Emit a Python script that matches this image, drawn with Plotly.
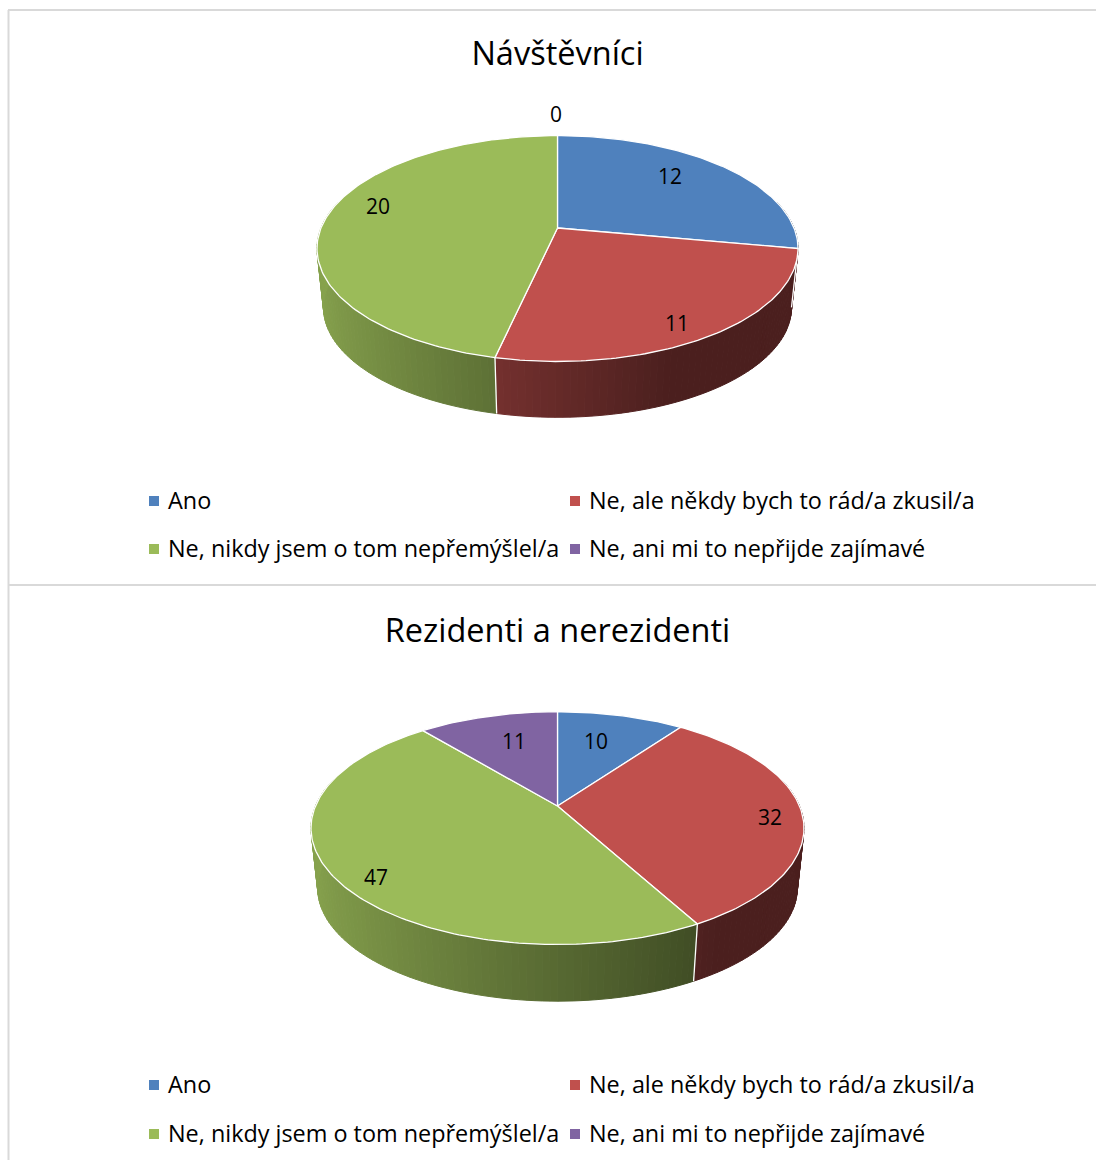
import numpy as np
import plotly.graph_objects as go

categories = ["Ano", "Ne, ale někdy bych to rád/a zkusil/a",
              "Ne, nikdy jsem o tom nepřemýšlel/a", "Ne, ani mi to nepřijde zajímavé"]
colors = ["#4F81BD", "#C0504D", "#9BBB59", "#8064A2"]

title_1 = "Návštěvníci"
values_1 = [12, 11, 20, 0]
title_2 = "Rezidenti a nerezidenti"
values_2 = [10, 32, 47, 11]

FONT = "Open Sans, Noto Sans, sans-serif"
TEXT = "#000000"
W, H = 1096, 1160
BORDER = "#D9D9D9"

# Scene placement of each pie (apex, half-width, perspective, depth)
scene_1 = dict(cx=557.5, cy=228, A=109.2, B=236.5, k=0.182, s=0.973, dy=59.4, x_dark=0.4,
               title_y=57, legend_y=(503, 551),
               label_xy=[(670, 179), (677, 326), (378, 209), (556, 117)])
scene_2 = dict(cx=557.5, cy=806, A=112.2, B=242.0, k=0.19, s=0.973, dy=60.4, x_dark=0.56,
               title_y=634, legend_y=(1087, 1136),
               label_xy=[(596, 744), (770, 820), (376, 880), (514, 744)])
LEGEND_X = [(154, 168), (575, 589)]


def project(sc, t, bottom=False):
    X, Y = np.sin(t), -np.cos(t)
    d = 1 - sc["k"] * Y
    s = sc["s"] if bottom else 1.0
    off = sc["dy"] if bottom else 0.0
    return sc["cx"] + s * sc["B"] * X / d, sc["cy"] + off + s * sc["A"] * Y / d


def shade(hex_color, f):
    r, g, b = (int(hex_color[i:i + 2], 16) for i in (1, 3, 5))
    return f"rgb({r * f:.0f},{g * f:.0f},{b * f:.0f})"


def side_factor(t, x_dark):
    return float(np.clip(0.87 - 0.48 * (np.sin(t) + 1) / (1 + x_dark), 0.39, 0.87))


fig = go.Figure()


def add_poly(x, y, fill, line=None, width=1):
    fig.add_trace(go.Scatter(x=list(x), y=list(y), mode="lines", fill="toself", fillcolor=fill,
                             line=dict(color=line or fill, width=width), hoverinfo="skip",
                             showlegend=False))


def add_pie(values, title, sc):
    total = sum(values)
    edges = np.cumsum([0] + list(values)) / total * 2 * np.pi

    # extruded wall: short shaded strips over the front half
    for i, col in enumerate(colors):
        a, b = edges[i], edges[i + 1]
        lo, hi = max(a, np.pi / 2 - 0.25), min(b, 3 * np.pi / 2 + 0.25)
        if hi <= lo:
            continue
        n = max(2, int((hi - lo) / np.radians(1.5)))
        ts = np.linspace(lo, hi, n + 1)
        for t0, t1 in zip(ts[:-1], ts[1:]):
            x0, y0 = project(sc, t0)
            x1, y1 = project(sc, t1)
            x2, y2 = project(sc, t1, True)
            x3, y3 = project(sc, t0, True)
            add_poly([x0, x1, x2, x3, x0], [y0, y1, y2, y3, y0],
                     shade(col, side_factor((t0 + t1) / 2, sc["x_dark"])))

    # white seams on the wall
    for e in edges[:-1]:
        if np.pi / 2 < e % (2 * np.pi) < 3 * np.pi / 2:
            x0, y0 = project(sc, e)
            x1, y1 = project(sc, e, True)
            fig.add_trace(go.Scatter(x=[x0, x1], y=[y0, y1], mode="lines",
                                     line=dict(color="white", width=1.3),
                                     hoverinfo="skip", showlegend=False))

    # top faces
    for i, col in enumerate(colors):
        a, b = edges[i], edges[i + 1]
        if b <= a:
            continue
        ts = np.linspace(a, b, max(3, int((b - a) / np.radians(1))))
        px, py = project(sc, ts)
        xs = [sc["cx"]] + list(px) + [sc["cx"]]
        ys = [sc["cy"]] + list(py) + [sc["cy"]]
        add_poly(xs, ys, col, "white", 1.3)

    # data labels
    fig.add_trace(go.Scatter(x=[p[0] for p in sc["label_xy"]], y=[p[1] for p in sc["label_xy"]],
                             mode="text", text=[str(v) for v in values], textposition="middle center",
                             textfont=dict(family=FONT, size=21, color=TEXT),
                             hoverinfo="skip", showlegend=False))
    # title
    fig.add_trace(go.Scatter(x=[sc["cx"]], y=[sc["title_y"]], mode="text", text=[title],
                             textposition="middle center",
                             textfont=dict(family=FONT, size=32.5, color=TEXT),
                             hoverinfo="skip", showlegend=False))
    # legend
    for i, cat in enumerate(categories):
        row, col_i = i // 2, i % 2
        mx, tx = LEGEND_X[col_i]
        ly = sc["legend_y"][row]
        fig.add_trace(go.Scatter(x=[mx], y=[ly - 2], mode="markers",
                                 marker=dict(symbol="square", size=10, color=colors[i], line=dict(width=0)),
                                 hoverinfo="skip", showlegend=False))
        fig.add_trace(go.Scatter(x=[tx], y=[ly], mode="text", text=[cat], textposition="middle right",
                                 textfont=dict(family=FONT, size=23.4, color=TEXT),
                                 hoverinfo="skip", showlegend=False))


add_pie(values_1, title_1, scene_1)
add_pie(values_2, title_2, scene_2)

frame = [
    dict(x0=8.5, x1=8.5, y0=10, y1=H),
    dict(x0=8, x1=W, y0=10, y1=10),
    dict(x0=8, x1=W, y0=585, y1=585),
]
fig.update_layout(
    width=W, height=H, margin=dict(l=0, r=0, t=0, b=0, pad=0),
    paper_bgcolor="white", plot_bgcolor="white", showlegend=False,
    xaxis=dict(range=[0, W], visible=False, fixedrange=True),
    yaxis=dict(range=[H, 0], visible=False, fixedrange=True),
    shapes=[dict(type="line", xref="x", yref="y", line=dict(color=BORDER, width=2), layer="below", **f)
            for f in frame],
)
fig.write_html("out.html", config=dict(displayModeBar=False),
               post_script="document.body.style.margin='0';document.documentElement.style.overflow='hidden';")
